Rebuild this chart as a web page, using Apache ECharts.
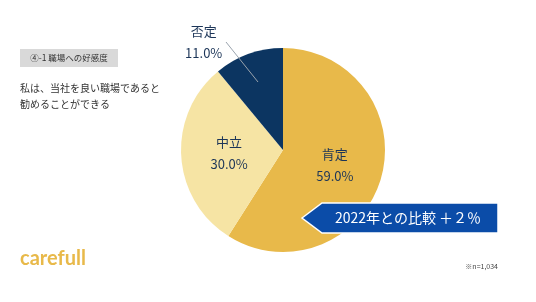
<!DOCTYPE html>
<html><head><meta charset="utf-8">
<script src="https://cdn.jsdelivr.net/npm/echarts@6/dist/echarts.min.js"></script>
<style>html,body{margin:0;padding:0;background:#fff}#c{width:536px;height:302px}</style>
</head><body><div id="c"></div>
<script>
const categories = ['肯定', '中立', '否定'];
const values = [59.0, 30.0, 11.0];
const colors = ['#E8B94A', '#F6E4A4', '#0C3561'];
const titleTag = '④-1 職場への好感度';
const question = ['私は、当社を良い職場であると', '勧めることができる'];
const callout = '2022年との比較 ＋２％';
const note = '※n=1,034';
const brand = 'carefull';

const FONT = '"Noto Sans CJK JP","Noto Sans",sans-serif';
const chart = echarts.init(document.getElementById('c'), null, {renderer: 'canvas'});
const data = categories.map((n, i) => {
  const d = {name: n, value: values[i], itemStyle: {color: colors[i]}};
  if (n === '否定') d.label = {offset: [-61, -57]};
  return d;
});
chart.setOption({
  backgroundColor: '#fff',
  animation: false,
  series: [{
    type: 'pie',
    center: [283, 150],
    radius: [0, 102],
    startAngle: 90,
    clockwise: true,
    data: data,
    itemStyle: {borderWidth: 0},
    label: {
      show: true,
      position: 'inside',
      formatter: p => p.name + '\n' + p.value.toFixed(1) + '%',
      color: '#1C3558',
      fontSize: 13,
      lineHeight: 22,
      fontFamily: FONT
    },
    labelLine: {show: false}
  }],
  graphic: [
    {type: 'line', shape: {x1: 258, y1: 82, x2: 226, y2: 42}, style: {stroke: '#9aa3ad', lineWidth: 1}, z: 10},
    {type: 'rect', shape: {x: 20, y: 49, width: 98, height: 18}, style: {fill: '#D9D9D9'}},
    {type: 'text', style: {x: 69, y: 58, text: titleTag, align: 'center', verticalAlign: 'middle', fontSize: 8.5, fill: '#333', fontFamily: FONT}},
    {type: 'text', style: {x: 20, y: 88, text: question[0], verticalAlign: 'middle', fontSize: 10, fill: '#333', fontFamily: FONT}},
    {type: 'text', style: {x: 20, y: 104, text: question[1], verticalAlign: 'middle', fontSize: 10, fill: '#333', fontFamily: FONT}},
    {type: 'polygon', shape: {points: [[302, 218], [322, 203], [498, 203], [498, 233], [322, 233]]}, style: {fill: '#0B4CA8', stroke: '#ffffff', lineWidth: 1.5}, z: 20},
    {type: 'text', z: 21, style: {x: 408, y: 218, text: callout, align: 'center', verticalAlign: 'middle', fontSize: 14, fill: '#fff', fontFamily: FONT}},
    {type: 'text', style: {x: 20, y: 259, text: brand, verticalAlign: 'middle', fontSize: 20, fontWeight: 'bold', fill: '#E8B94A', fontFamily: '"Lato","Noto Sans",sans-serif'}},
    {type: 'text', style: {x: 498, y: 266, text: note, align: 'right', verticalAlign: 'middle', fontSize: 7, fill: '#444', fontFamily: FONT}}
  ]
});
</script></body></html>
